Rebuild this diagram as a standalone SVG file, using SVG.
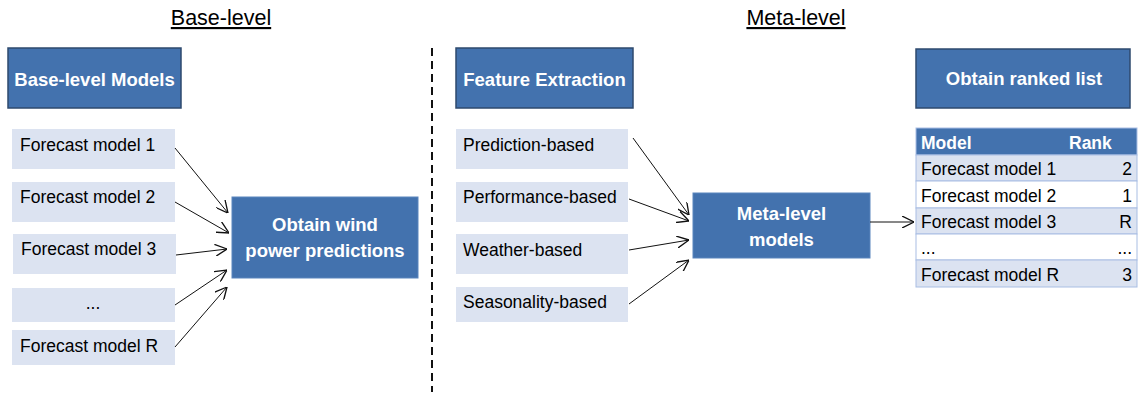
<svg xmlns="http://www.w3.org/2000/svg" width="1139" height="393" viewBox="0 0 1139 393">
  <style>
    .t { font-family: "Liberation Sans", Arial, sans-serif; fill: #000; }
    .title { font-size: 21.5px; text-anchor: middle; text-decoration: underline; }
    .head { fill: #4372AE; stroke: #2E4A6E; stroke-width: 1.5; }
    .headtxt { font-family: "Liberation Sans", Arial, sans-serif; font-weight: bold; font-size: 18.5px; fill: #fff; text-anchor: middle; }
    .item { fill: #DCE3F1; }
    .itxt { font-size: 17.5px; }
    .proc { fill: #4372AE; stroke: #5B85BD; stroke-width: 1; }
    .conn line { stroke: #111; stroke-width: 1; marker-end: url(#arr); }
    .cell { stroke: #A9BEE3; stroke-width: 1; }
    .thead { font-family: "Liberation Sans", Arial, sans-serif; font-weight: bold; font-size: 17.5px; fill: #fff; }
  </style>
  <defs>
    <marker id="arr" markerWidth="12" markerHeight="12" refX="10" refY="5" orient="auto" markerUnits="userSpaceOnUse" viewBox="0 0 10 10">
      <path d="M0,0 L10,5 L0,10" fill="none" stroke="#111" stroke-width="1.1"/>
    </marker>
  </defs>
  <rect width="1139" height="393" fill="#fff"/>

  <!-- section titles -->
  <g id="title-base">
    <text class="t title" x="221" y="25">Base-level</text>
  </g>
  <g id="title-meta">
    <text class="t title" x="796" y="25">Meta-level</text>
  </g>

  <!-- dashed divider -->
  <line id="divider" x1="432" y1="48" x2="432" y2="392" stroke="#111" stroke-width="2" stroke-dasharray="8,5"/>

  <!-- base level -->
  <g id="base-models">
    <rect class="head" x="8" y="48" width="173" height="60"/>
    <text class="headtxt" x="94.5" y="86">Base-level Models</text>
  </g>
  <g id="fm1"><rect class="item" x="12" y="129" width="163" height="40"/><text class="t itxt" x="20" y="151">Forecast model 1</text></g>
  <g id="fm2"><rect class="item" x="12" y="182" width="163" height="40"/><text class="t itxt" x="20" y="203">Forecast model 2</text></g>
  <g id="fm3"><rect class="item" x="13" y="234" width="163" height="40"/><text class="t itxt" x="21" y="255">Forecast model 3</text></g>
  <g id="fm-dots"><rect class="item" x="12" y="288" width="163" height="34"/><text class="t itxt" x="93" y="309" text-anchor="middle">...</text></g>
  <g id="fmR"><rect class="item" x="12" y="330" width="163" height="35"/><text class="t itxt" x="20" y="352">Forecast model R</text></g>

  <g id="obtain-wind">
    <rect class="proc" x="232" y="197" width="186" height="81"/>
    <text class="headtxt" x="325" y="231">Obtain wind</text>
    <text class="headtxt" x="325" y="257">power predictions</text>
  </g>

  <!-- meta level -->
  <g id="feature-extraction">
    <rect class="head" x="456" y="48" width="177" height="60"/>
    <text class="headtxt" x="544.5" y="86">Feature Extraction</text>
  </g>
  <g id="f-pred"><rect class="item" x="456" y="129" width="172" height="40"/><text class="t itxt" x="463" y="151">Prediction-based</text></g>
  <g id="f-perf"><rect class="item" x="456" y="182" width="172" height="40"/><text class="t itxt" x="463" y="203">Performance-based</text></g>
  <g id="f-weather"><rect class="item" x="456" y="234" width="172" height="40"/><text class="t itxt" x="463" y="256">Weather-based</text></g>
  <g id="f-season"><rect class="item" x="456" y="287" width="172" height="35"/><text class="t itxt" x="463" y="308">Seasonality-based</text></g>

  <g id="meta-models">
    <rect class="proc" x="693" y="193" width="177" height="65"/>
    <text class="headtxt" x="781.5" y="220">Meta-level</text>
    <text class="headtxt" x="781.5" y="246">models</text>
  </g>

  <g id="ranked-list">
    <rect class="head" x="916" y="49" width="214" height="59"/>
    <text class="headtxt" x="1024" y="85">Obtain ranked list</text>
  </g>

  <g id="rank-table">
    <rect x="916" y="128" width="221" height="27" fill="#4372AE" class="cell"/>
    <rect x="916" y="155" width="221" height="26" fill="#DCE3F1" class="cell"/>
    <rect x="916" y="181" width="221" height="27" fill="#fff" class="cell"/>
    <rect x="916" y="208" width="221" height="26" fill="#DCE3F1" class="cell"/>
    <rect x="916" y="234" width="221" height="26" fill="#fff" class="cell"/>
    <rect x="916" y="260" width="221" height="27" fill="#DCE3F1" class="cell"/>
    <text class="thead" x="921" y="149">Model</text>
    <text class="thead" x="1069" y="149">Rank</text>
    <text class="t itxt" x="921" y="175">Forecast model 1</text>
    <text class="t itxt" x="1132" y="175" text-anchor="end">2</text>
    <text class="t itxt" x="921" y="202">Forecast model 2</text>
    <text class="t itxt" x="1132" y="202" text-anchor="end">1</text>
    <text class="t itxt" x="921" y="228">Forecast model 3</text>
    <text class="t itxt" x="1132" y="228" text-anchor="end">R</text>
    <text class="t itxt" x="921" y="254">...</text>
    <text class="t itxt" x="1132" y="254" text-anchor="end">...</text>
    <text class="t itxt" x="921" y="281">Forecast model R</text>
    <text class="t itxt" x="1132" y="281" text-anchor="end">3</text>
  </g>

  <!-- connectors -->
  <g id="connectors" class="conn">
    <line x1="175" y1="148" x2="228" y2="213"/>
    <line x1="175" y1="202" x2="229" y2="233"/>
    <line x1="176" y1="255" x2="227" y2="249"/>
    <line x1="175" y1="305" x2="227" y2="270"/>
    <line x1="175" y1="347" x2="227" y2="287"/>
    <line x1="633" y1="138" x2="689" y2="215"/>
    <line x1="629" y1="199" x2="689" y2="221"/>
    <line x1="629" y1="250" x2="689" y2="240"/>
    <line x1="629" y1="304" x2="689" y2="260"/>
    <line x1="870" y1="222" x2="914" y2="222"/>
  </g>
</svg>
